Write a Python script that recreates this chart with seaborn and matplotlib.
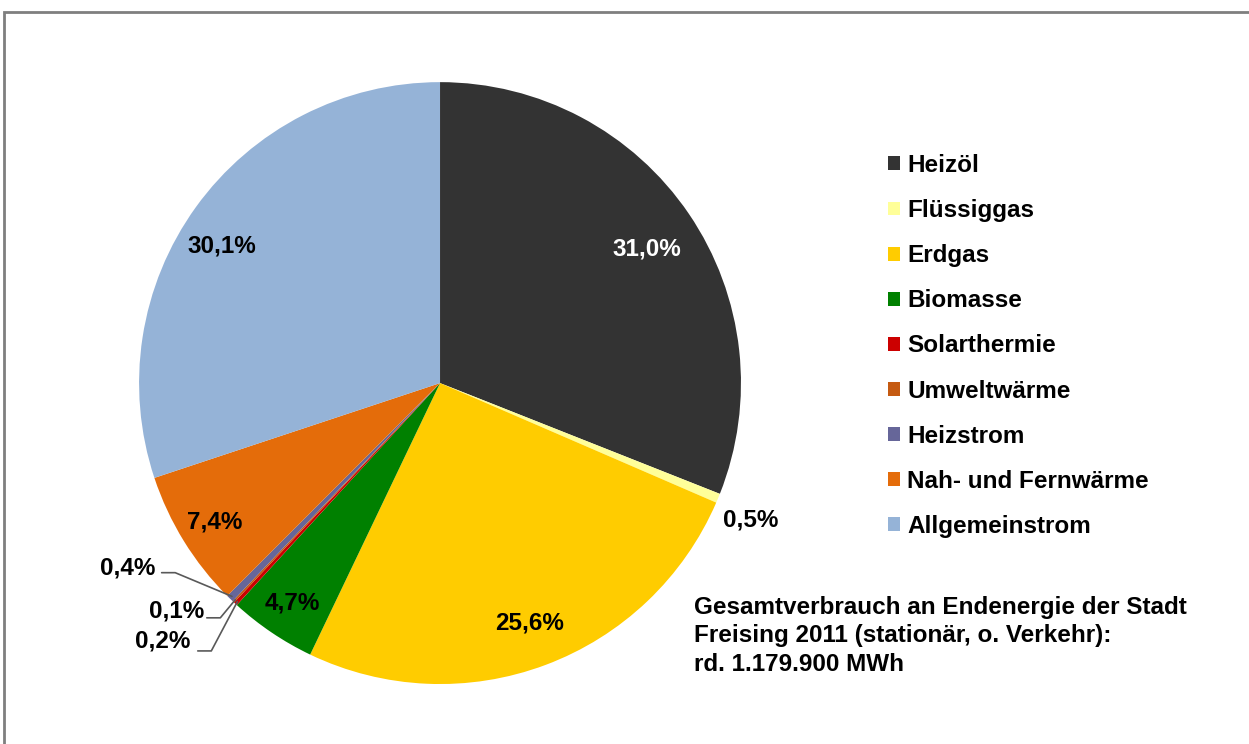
import matplotlib.pyplot as plt
import numpy as np
import seaborn as sns
from matplotlib.patches import Patch, Rectangle

sns.set_theme(style="white")
plt.rcParams["font.family"] = ["Liberation Sans", "DejaVu Sans"]
plt.rcParams["font.weight"] = "bold"
plt.rcParams["text.color"] = "black"

# data
sources = ["Heizöl", "Flüssiggas", "Erdgas", "Biomasse", "Solarthermie",
           "Umweltwärme", "Heizstrom", "Nah- und Fernwärme", "Allgemeinstrom"]
shares = [31.0, 0.5, 25.6, 4.7, 0.2, 0.1, 0.4, 7.4, 30.1]
colors = ["#333333", "#FFFF99", "#FFCC00", "#008000", "#CC0000",
          "#C55A11", "#666699", "#E46C0A", "#95B3D7"]
label_colors = ["white", "black", "black", "black", "black",
                "black", "black", "black", "black"]
note = ("Gesamtverbrauch an Endenergie der Stadt\n"
        "Freising 2011 (stationär, o. Verkehr):\n"
        "rd. 1.179.900 MWh")

fig = plt.figure(figsize=(12.49, 7.44), dpi=100)
ax = fig.add_axes([0.1113, 0.0806, 0.482, 0.809])

wedges, _ = ax.pie(shares, colors=colors, startangle=90, counterclock=False,
                   radius=1.0, wedgeprops=dict(linewidth=0))
ax.set_xlim(-1, 1)
ax.set_ylim(-1, 1)
ax.set_aspect("equal")
ax.axis("off")


def fmt(v):
    return f"{v:.1f}%".replace(".", ",")


# labels inside the big slices: radius and small nudge
inner = {0: (0.83, 0.0, -0.02), 2: (0.85, 0.0, 0.0), 3: (0.88, 0.0, 0.0),
         7: (0.88, 0.0, 0.0), 8: (0.86, -0.027, -0.047)}
for i, (r, dx, dy) in inner.items():
    w = wedges[i]
    ang = np.deg2rad((w.theta1 + w.theta2) / 2)
    ax.text(r * np.cos(ang) + dx, r * np.sin(ang) + dy, fmt(shares[i]),
            ha="center", va="center", fontsize=17.5, fontweight="bold",
            color=label_colors[i])

# Flüssiggas label outside without line
w = wedges[1]
ang = np.deg2rad((w.theta1 + w.theta2) / 2)
ax.text(1.03 * np.cos(ang) + 0.08, 1.03 * np.sin(ang) - 0.06, fmt(shares[1]),
        ha="center", va="center", fontsize=17.5, fontweight="bold")

# small slices with leader lines (text position, elbow position)
small = {6: ((-1.037, -0.615), (-0.88, -0.63)),
         5: ((-0.875, -0.757), (-0.73, -0.78)),
         4: ((-0.92, -0.857), (-0.76, -0.89))}
for i, (tpos, elbow) in small.items():
    w = wedges[i]
    ang = np.deg2rad((w.theta1 + w.theta2) / 2)
    tip = (0.99 * np.cos(ang), 0.99 * np.sin(ang))
    ax.plot([elbow[0] - 0.045, elbow[0], tip[0]],
            [elbow[1], elbow[1], tip[1]], color="#595959", lw=1.2)
    ax.text(tpos[0], tpos[1], fmt(shares[i]), ha="center", va="center",
            fontsize=17.5, fontweight="bold")

handles = [Patch(facecolor=c, edgecolor="none", label=s)
           for s, c in zip(sources, colors)]
fig.legend(handles=handles, loc="upper left",
           bbox_to_anchor=(0.711, 0.793), frameon=False,
           prop=dict(size=17.5, weight="bold"),
           handlelength=0.5, handleheight=0.5, handletextpad=0.3,
           labelspacing=0.91, borderpad=0, borderaxespad=0)

fig.text(694 / 1249, 1 - 596 / 744, note, ha="left", va="top",
         fontsize=17.5, fontweight="bold", linespacing=1.3)

fig.patches.append(Rectangle((4 / 1249, -0.1), 1.2, 1 - 12 / 744 + 0.1,
                             transform=fig.transFigure, fill=False,
                             edgecolor="#7F7F7F", linewidth=2))

fig.savefig("out.png", dpi=100)
